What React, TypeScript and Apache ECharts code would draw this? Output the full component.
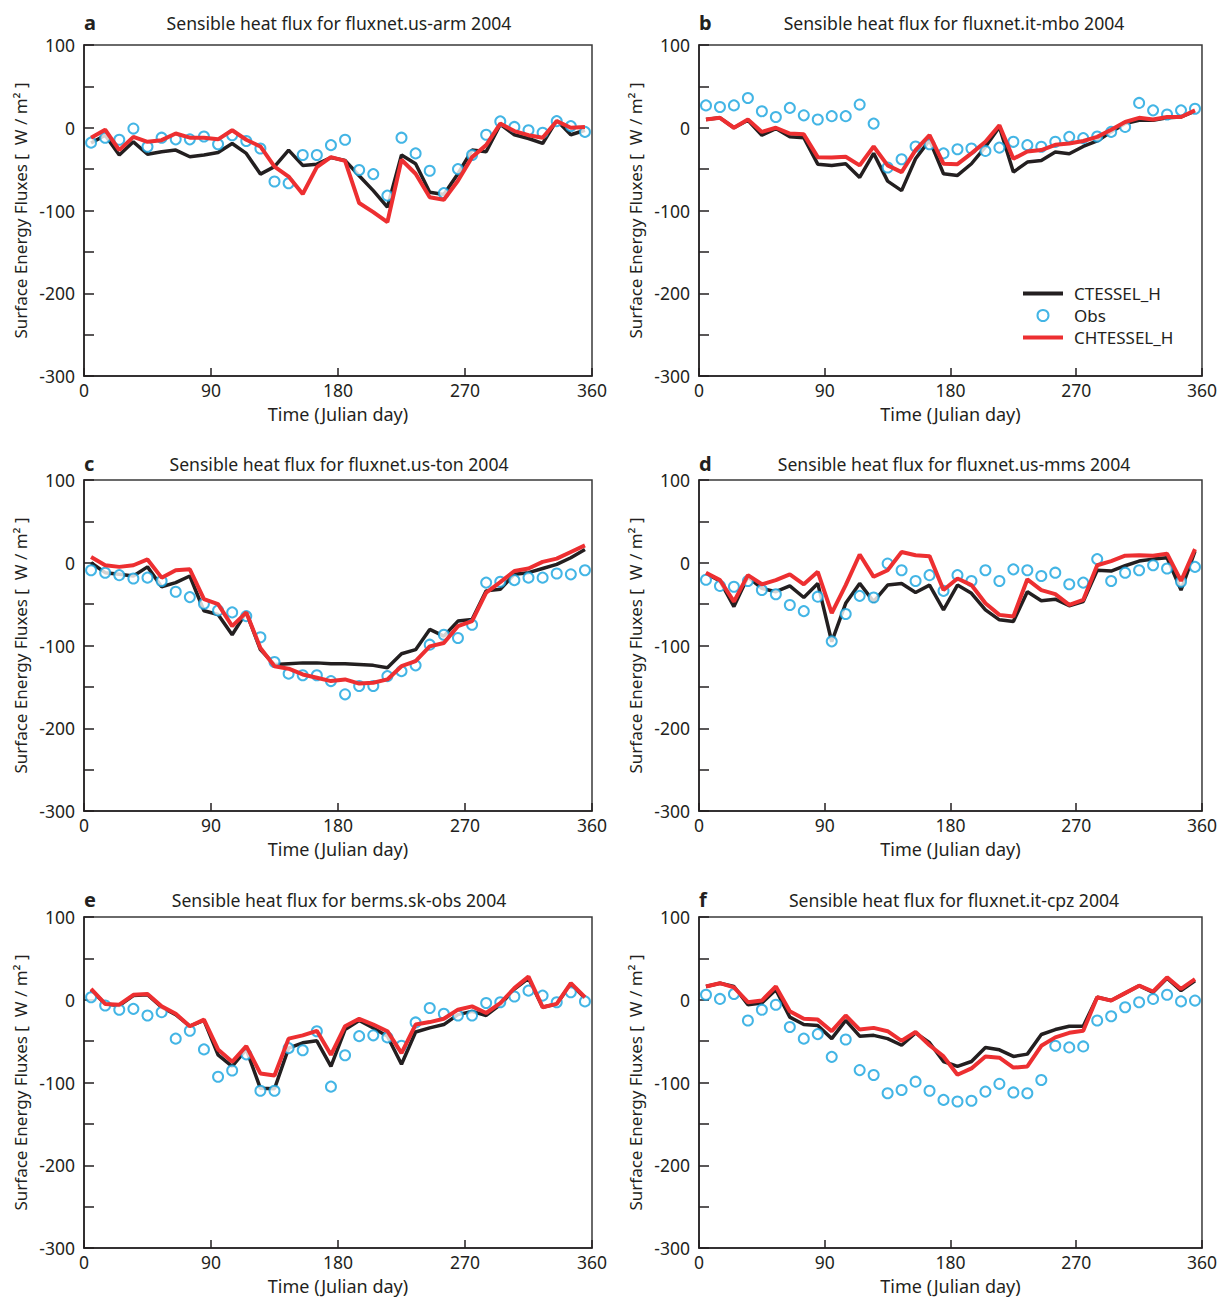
import React, { useEffect, useRef } from "react";
import * as echarts from "echarts";

const DAYS = [5, 15, 25, 35, 45, 55, 65, 75, 85, 95, 105, 115, 125, 135, 145, 155, 165, 175,
  185, 195, 205, 215, 225, 235, 245, 255, 265, 275, 285, 295, 305, 315, 325, 335, 345, 355];

const X_TICKS = [0, 90, 180, 270, 360];
const Y_TICKS = [100, 0, -100, -200, -300];

const TITLES = [
  "Sensible heat flux for fluxnet.us-arm 2004",
  "Sensible heat flux for fluxnet.it-mbo 2004",
  "Sensible heat flux for fluxnet.us-ton 2004",
  "Sensible heat flux for fluxnet.us-mms 2004",
  "Sensible heat flux for berms.sk-obs 2004",
  "Sensible heat flux for fluxnet.it-cpz 2004",
];
const LETTERS = ["a", "b", "c", "d", "e", "f"];

// Panel a
const A_CT = [-18.5, -9, -33, -17, -32, -29, -27, -35, -33, -30, -19, -31, -56, -47, -27, -45.5, -44, -36,
  -39.5, -58, -76, -96, -33, -43.5, -78, -80.6, -55.6, -27, -29, 4, -8.5, -13, -19, 9, -8.5, -3];
const A_CHT = [-12, -2.4, -27, -11, -17, -15, -7, -12, -12, -14, -3, -14.5, -22.6, -47, -59, -80, -47.5, -35.5,
  -40, -91, -102, -114, -38.7, -55.6, -84, -87, -64, -35.5, -21, 5, -4, -9, -12, 8, 0, 1];
const A_OBS = [-18, -12, -14.5, -1, -23, -12, -14, -14, -10.5, -20, -9, -16, -25, -65, -67, -33, -33, -21,
  -14.5, -51, -56, -82, -12, -31, -52, -79, -50, -33, -8.5, 7.7, 1, -3, -6, 8, 2, -5];

// Panel b
const B_CT = [10, 12, 0, 9, -9, -1, -11, -12, -44, -45.5, -43.5, -60, -31, -64.5, -76, -37.5, -15, -55.6,
  -57.6, -43.5, -23, 1, -53.6, -41.5, -39.5, -29.4, -31.4, -22.6, -16, -5, 5, 9, 9, 12, 13, 20];
const B_CHT = [10, 12, 0, 10, -5, 0, -7, -8, -35.5, -36, -35, -45.5, -22.6, -45.5, -53.6, -27, -9, -43.5,
  -44, -31, -17, 3, -37.5, -28.6, -27, -20.6, -19, -16, -11, -2.4, 7, 12, 10, 13, 13, 21];
const B_OBS = [27, 25, 27, 36, 20, 13, 24, 15, 10, 14, 14, 28, 5, -48, -38, -22.6, -20, -31,
  -26, -25, -28, -24, -17, -21, -23, -17, -11, -12.5, -10.5, -5, 1, 30, 21, 16, 21, 23];

// Panel c
const C_CT = [0, -12, -14, -16, -5, -29, -24, -16, -58, -62.5, -87, -60, -105, -123, -122, -121, -121, -122,
  -122, -123, -124, -127, -110, -105, -80.6, -88.7, -70.5, -68.5, -34, -32, -14, -12, -7, -2, 6, 16];
const C_CHT = [7, -3, -5, -3, 4, -18, -9, -8, -44, -50, -76.6, -60, -103, -125, -128, -135, -139, -143,
  -141, -146, -145, -141, -125, -119, -101, -97, -76.6, -70.5, -36, -23.4, -10, -7, 1, 5, 13, 21];
const C_OBS = [-9, -12, -15, -19, -18, -22, -35, -41.5, -49.6, -57.6, -60, -64.5, -90, -120, -134, -136, -136, -143,
  -159, -149, -149, -137, -131, -124, -99, -87, -91, -75, -24, -23, -21, -18, -18, -13, -14, -9];

// Panel d
const D_CT = [-13, -22, -53, -17, -31, -35, -28, -42, -25, -95.5, -49, -25, -47, -27, -25, -36, -27, -57,
  -27, -37, -57, -69, -71, -35, -46, -44, -52, -47, -9, -10, -3.6, 2, 4.4, 6, -33, 14];
const D_CHT = [-12, -21, -47, -15, -26, -21, -14, -26, -11, -61, -27, 10, -17, -9, 13, 9, 8, -33,
  -19, -27, -49, -63, -65, -20, -33, -38, -51, -45, -3, 2, 8.5, 9, 8.5, 11, -22, 16.5];
const D_OBS = [-20.5, -28, -29, -22, -33, -38, -51, -58.5, -41, -95, -62, -40, -42, -1, -9, -22, -15, -34,
  -15, -22, -9, -22, -8, -9, -16, -12, -26, -24, 4.4, -22, -12, -9, -3, -7, -23, -5];

// Panel e
const E_CT = [12, -5, -7, 5, 6, -9, -18, -32, -25, -66.5, -80.6, -60, -107, -107.6, -58.5, -52, -49.6, -80.6,
  -36, -25, -34, -44, -78, -39, -34, -30, -18, -14, -19, -6, 13, 26, -9, -5, 19, 2];
const E_CHT = [13, -5, -6, 6, 7, -8, -17, -32, -24, -60, -75, -56, -89, -91.5, -47, -43, -37.5, -66.5,
  -32, -23, -30, -38, -64.5, -30, -27, -23, -12, -8, -16, -4, 14, 28, -9, -5, 20, 3];
const E_OBS = [3, -7, -12, -11, -19, -15, -47, -37.5, -60, -93, -85.5, -66, -110, -110, -58.5, -61, -38, -105,
  -67, -44, -43, -45.5, -55.6, -27.4, -10, -17, -19, -19, -4, -3, 4, 11, 5, -3, 9, -2];

// Panel f
const F_CT = [16, 20, 16, -6, -4, 12, -21, -30, -31, -47, -25, -44, -43, -47, -55, -40, -52, -74.6,
  -80.6, -74.6, -57.6, -60.5, -68.5, -65.7, -42, -36, -32, -32, 3, -1, 8, 17, 9, 26, 11, 23];
const F_CHT = [16, 20, 15, -3, -1, 16, -14, -23, -24, -38, -19, -36, -34, -38, -49.6, -39, -55, -68.5,
  -90.7, -83, -68.5, -70, -82, -80.6, -55.6, -45.5, -40, -37.5, 3, -1, 8, 17, 10, 27, 13, 25];
const F_OBS = [6, 1, 7, -25, -12, -6, -33, -47, -41.5, -69, -48, -85, -91, -113, -109, -99, -110, -121,
  -123, -122, -111, -101.6, -112, -113, -97, -55.6, -57.6, -56.4, -25, -20, -9, -3, 1, 6, -2, -1];

const PANELS = [
  [A_CT, A_OBS, A_CHT],
  [B_CT, B_OBS, B_CHT],
  [C_CT, C_OBS, C_CHT],
  [D_CT, D_OBS, D_CHT],
  [E_CT, E_OBS, E_CHT],
  [F_CT, F_OBS, F_CHT],
];

const FONT = "Noto Sans";
const INK = "#231f20";
const RED = "#ed2f31";
const CYAN = "#14a3df";

export default function App() {
  const ref = useRef<HTMLDivElement>(null);
  useEffect(() => {
    document.body.style.margin = "0";
    const chart = echarts.init(ref.current!, null, { renderer: "svg" });
    const lefts = [84, 699];
    const tops = [45, 480, 917];
    const W = 508;
    const H = 331;
    const grids: any[] = [];
    const xAxes: any[] = [];
    const yAxes: any[] = [];
    const series: any[] = [];
    const graphics: any[] = [];
    PANELS.forEach((p, i) => {
      const col = i % 2;
      const row = Math.floor(i / 2);
      const left = lefts[col];
      const top = tops[row];
      grids.push({
        left, top, width: W, height: H, show: true,
        borderColor: "#3a3a3a", borderWidth: 1.5, backgroundColor: "transparent",
      });
      xAxes.push({
        type: "value", gridIndex: i, min: 0, max: 360, interval: 90,
        axisLine: { show: true, onZero: false, lineStyle: { color: INK, width: 1.5 } },
        axisTick: { show: true, inside: true, length: 8, lineStyle: { color: INK, width: 1.5 } },
        axisLabel: {
          color: INK, fontSize: 17.5, fontFamily: FONT, margin: 5,
          formatter: (v: number) => (X_TICKS.indexOf(v) >= 0 ? String(v) : ""),
        },
        splitLine: { show: false },
        name: "Time (Julian day)", nameLocation: "middle", nameGap: 29,
        nameTextStyle: { color: INK, fontSize: 18, fontFamily: FONT },
      });
      yAxes.push({
        type: "value", gridIndex: i, min: -300, max: 100, interval: 50,
        axisLine: { show: true, onZero: false, lineStyle: { color: INK, width: 1.5 } },
        axisTick: { show: true, inside: true, length: 10, lineStyle: { color: INK, width: 1.5 } },
        axisLabel: {
          color: INK, fontSize: 17.5, fontFamily: FONT, margin: 9,
          formatter: (v: number) => (Y_TICKS.indexOf(v) >= 0 ? String(v) : ""),
        },
        splitLine: { show: false },
        name: "Surface Energy Fluxes [  W / m² ]", nameLocation: "middle", nameGap: 55,
        nameTextStyle: { color: INK, fontSize: 17, fontFamily: FONT },
      });
      const [ct, obs, cht] = p;
      series.push({
        name: "CTESSEL_H", type: "line", xAxisIndex: i, yAxisIndex: i,
        data: DAYS.map((d, k) => [d, ct[k]]), symbol: "none", z: 2,
        lineStyle: { color: INK, width: 3.5 }, itemStyle: { color: INK },
      });
      series.push({
        name: "Obs", type: "scatter", xAxisIndex: i, yAxisIndex: i,
        data: DAYS.map((d, k) => [d, obs[k]]), symbol: "emptyCircle", symbolSize: 10, z: 3,
        itemStyle: { color: CYAN, borderColor: CYAN, borderWidth: 2.3 },
      });
      series.push({
        name: "CHTESSEL_H", type: "line", xAxisIndex: i, yAxisIndex: i,
        data: DAYS.map((d, k) => [d, cht[k]]), symbol: "none", z: 4,
        lineStyle: { color: RED, width: 4 }, itemStyle: { color: RED },
      });
      const titleY = [23, 464, 900][row];
      graphics.push({
        type: "text", x: left + W / 2 + 1, y: titleY,
        style: { text: TITLES[i], fill: INK, font: `17.6px '${FONT}'`, textAlign: "center", textVerticalAlign: "middle" },
      });
      graphics.push({
        type: "text", x: left, y: titleY - 1,
        style: { text: LETTERS[i], fill: INK, font: `bold 20px '${FONT}'`, textAlign: "left", textVerticalAlign: "middle" },
      });
    });
    chart.setOption({
      animation: false,
      backgroundColor: "#fff",
      grid: grids,
      xAxis: xAxes,
      yAxis: yAxes,
      series,
      graphic: graphics,
      legend: {
        orient: "vertical", left: 1016, top: 280, itemWidth: 40, itemHeight: 11, itemGap: 5,
        data: [
          { name: "CTESSEL_H", itemStyle: { opacity: 0 }, lineStyle: { width: 4, color: INK } },
          { name: "Obs" },
          { name: "CHTESSEL_H", itemStyle: { opacity: 0 }, lineStyle: { width: 4, color: RED } },
        ],
        textStyle: { color: INK, fontSize: 17, fontFamily: FONT, padding: [0, 0, 0, 6] },
        selectedMode: false,
      },
    });
    return () => chart.dispose();
  }, []);
  return <div ref={ref} style={{ width: 1220, height: 1298 }} />;
}
